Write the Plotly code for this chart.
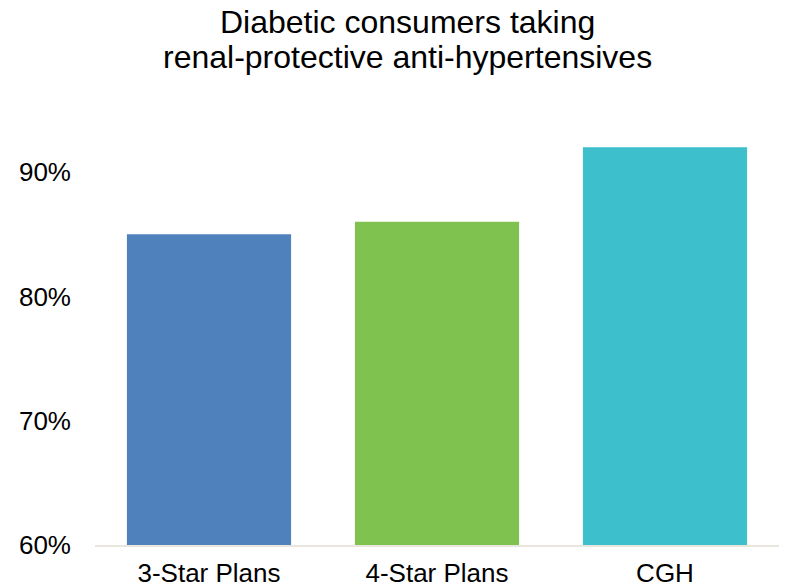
import plotly.graph_objects as go

categories = ["3-Star Plans", "4-Star Plans", "CGH"]
values = [0.85, 0.86, 0.92]
colors = ["#4F81BD", "#7FC24F", "#3DBFCC"]
y_ticks = [0.6, 0.7, 0.8, 0.9]
y_tick_labels = ["60%", "70%", "80%", "90%"]
title_lines = ["Diabetic consumers taking", "renal-protective anti-hypertensives"]

W, H = 789, 588
M_L, M_R, M_T, M_B = 95, 10, 110, 43
plot_w = W - M_L - M_R
plot_h = H - M_T - M_B

fig = go.Figure(
    go.Bar(x=categories, y=values, marker=dict(color=colors, line=dict(width=0)))
)

# title lines placed as annotations (pixel centres converted to paper coords)
title_cx = 407
title_centres_px = [22, 57]
for line, cy in zip(title_lines, title_centres_px):
    fig.add_annotation(
        text=line, xref="paper", yref="paper",
        x=(title_cx - M_L) / plot_w, y=(H - M_B - cy) / plot_h,
        xanchor="center", yanchor="middle", showarrow=False,
        font=dict(size=32, color="#000000"),
    )

fig.update_layout(
    width=W, height=H,
    margin=dict(l=M_L, r=M_R, t=M_T, b=M_B),
    paper_bgcolor="white", plot_bgcolor="white",
    bargap=0.28,
    showlegend=False,
    font=dict(family="Liberation Sans, Arial", color="#000000"),
)
fig.update_yaxes(
    range=[0.6, 0.95], tickvals=y_ticks, ticktext=y_tick_labels,
    showgrid=False, zeroline=False, showline=False,
    tickfont=dict(size=26), ticks="", ticklabelstandoff=23, automargin=False,
)
fig.update_xaxes(
    showline=True, linecolor="#E9E6DD", linewidth=2, ticks="",
    tickfont=dict(size=26), showgrid=False, ticklabelstandoff=4, automargin=False,
)
fig.write_html("out.html")
